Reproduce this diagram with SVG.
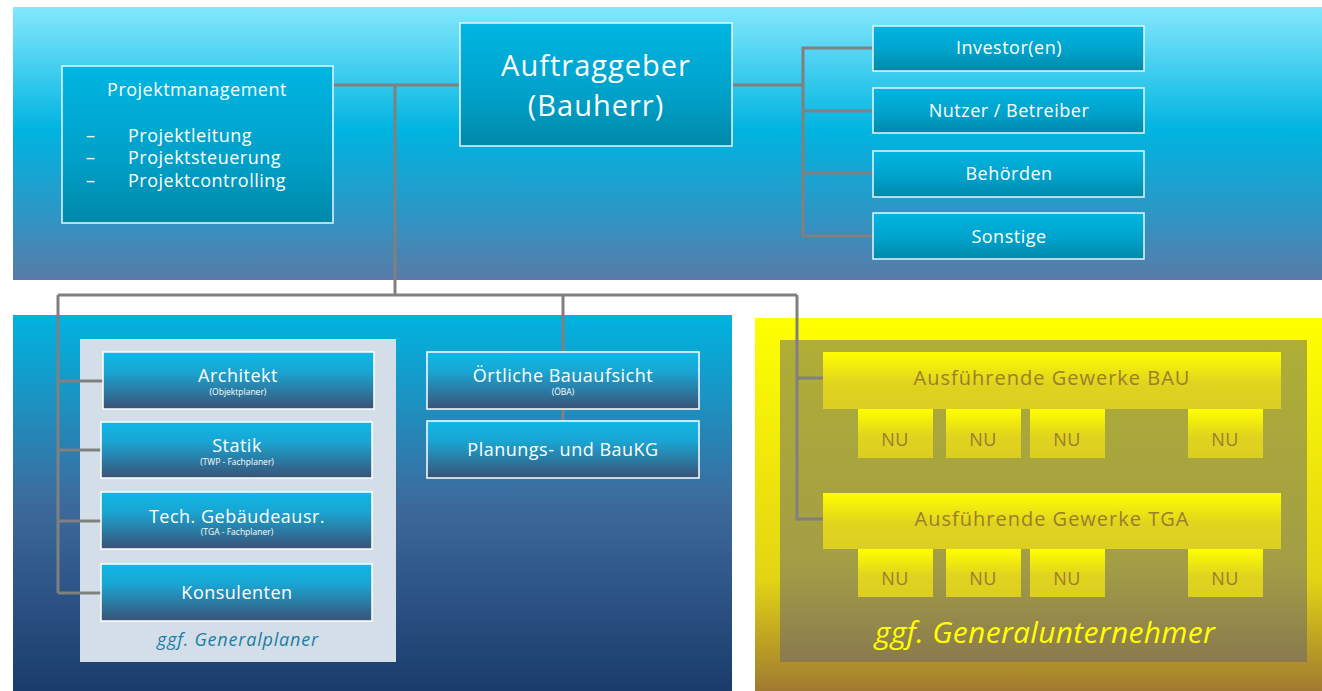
<svg xmlns="http://www.w3.org/2000/svg" width="1322" height="691" viewBox="0 0 1322 691">
  <defs>
    <linearGradient id="gTop" x1="0" y1="0" x2="0" y2="1">
      <stop offset="0" stop-color="#84E8FD"/>
      <stop offset="0.45" stop-color="#00B4E1"/>
      <stop offset="0.75" stop-color="#2C97C6"/>
      <stop offset="1" stop-color="#5A7AA8"/>
    </linearGradient>
    <linearGradient id="gBottom" x1="0" y1="0" x2="0" y2="1">
      <stop offset="0" stop-color="#00B4E1"/>
      <stop offset="0.5" stop-color="#3D6A9C"/>
      <stop offset="1" stop-color="#1A3C6C"/>
    </linearGradient>
    <linearGradient id="gYellow" x1="0" y1="0" x2="0" y2="1">
      <stop offset="0" stop-color="#FFFF00"/>
      <stop offset="0.7" stop-color="#E2D414"/>
      <stop offset="1" stop-color="#A07A30"/>
    </linearGradient>
    <linearGradient id="gOlive" x1="0" y1="0" x2="0" y2="1">
      <stop offset="0" stop-color="#AFAE36"/>
      <stop offset="0.7" stop-color="#A39D45"/>
      <stop offset="1" stop-color="#8A7A4E"/>
    </linearGradient>
    <linearGradient id="gBoxTop" x1="0" y1="0" x2="0" y2="1">
      <stop offset="0" stop-color="#00B6E2"/>
      <stop offset="0.6" stop-color="#00A0C8"/>
      <stop offset="1" stop-color="#0088A8"/>
    </linearGradient>
    <linearGradient id="gBoxLow" x1="0" y1="0" x2="0" y2="1">
      <stop offset="0" stop-color="#0EB8E6"/>
      <stop offset="0.35" stop-color="#1AA5D2"/>
      <stop offset="1" stop-color="#3A5276"/>
    </linearGradient>
    <linearGradient id="gBoxY" x1="0" y1="0" x2="0" y2="1">
      <stop offset="0" stop-color="#FFFF00"/>
      <stop offset="0.55" stop-color="#E0D41E"/>
      <stop offset="1" stop-color="#DCCE22"/>
    </linearGradient>
  </defs>
  <style>
    text { font-family: "Open Sans", "DejaVu Sans", sans-serif; }
    .bt { fill: url(#gBoxTop); stroke: #E6F6FC; stroke-width: 1.5; }
    .bl { fill: url(#gBoxLow); stroke: #FFFFFF; stroke-width: 1.5; }
    .by { fill: url(#gBoxY); }
    .w { fill: #FFFFFF; text-anchor: middle; }
    .wl { fill: #FFFFFF; }
    .t17 { font-size: 18px; letter-spacing: 0.5px; }
    .t30 { font-size: 29px; letter-spacing: 1px; }
    .sub { font-size: 8.5px; }
    .yt { fill: #9C7D2E; text-anchor: middle; }
    .conn { fill: none; stroke: #808080; stroke-width: 3; }
  </style>

  <!-- background panels -->
  <rect x="13" y="7" width="1309" height="273" fill="url(#gTop)"/>
  <rect x="13" y="315" width="719" height="376" fill="url(#gBottom)"/>
  <rect x="80" y="339" width="316" height="323" fill="#D3DEE9"/>
  <rect x="755" y="318" width="567" height="373" fill="url(#gYellow)"/>
  <rect x="780" y="340" width="527" height="322" fill="url(#gOlive)"/>

  <!-- connectors -->
  <g id="connectors">
    <path class="conn" d="M333 85 H460 M732 85 H803 M395 85 V295 M58 295 H797"/>
    <path class="conn" d="M873 48 H803 V236 H873 M803 111 H873 M803 173 H873"/>
    <path class="conn" d="M58 295 V593 M58 381 H103 M58 450 H101 M58 521 H101 M58 593 H101"/>
    <path class="conn" d="M563 295 V352 M563 409 V421"/>
    <path class="conn" d="M797 295 V519 H823 M797 378 H823"/>
  </g>

  <!-- client side -->
  <g id="projektmanagement">
    <rect class="bt" x="62" y="66" width="271" height="157"/>
    <text class="w t17" x="197" y="96">Projektmanagement</text>
    <text class="wl t17" x="86" y="142">–</text>
    <text class="wl t17" x="128" y="142">Projektleitung</text>
    <text class="wl t17" x="86" y="164">–</text>
    <text class="wl t17" x="128" y="164">Projektsteuerung</text>
    <text class="wl t17" x="86" y="187">–</text>
    <text class="wl t17" x="128" y="187">Projektcontrolling</text>
  </g>
  <g id="auftraggeber">
    <rect class="bt" x="460" y="23" width="272" height="123"/>
    <text class="w t30" x="596" y="76">Auftraggeber</text>
    <text class="w t30" x="596" y="116">(Bauherr)</text>
  </g>
  <g id="investor">
    <rect class="bt" x="873" y="26" width="271" height="45"/>
    <text class="w t17" x="1009" y="54">Investor(en)</text>
  </g>
  <g id="nutzer">
    <rect class="bt" x="873" y="88" width="271" height="45"/>
    <text class="w t17" x="1009" y="117">Nutzer / Betreiber</text>
  </g>
  <g id="behoerden">
    <rect class="bt" x="873" y="151" width="271" height="46"/>
    <text class="w t17" x="1009" y="180">Behörden</text>
  </g>
  <g id="sonstige">
    <rect class="bt" x="873" y="213" width="271" height="46"/>
    <text class="w t17" x="1009" y="243">Sonstige</text>
  </g>

  <!-- planners -->
  <g id="architekt">
    <rect class="bl" x="103" y="352" width="271" height="57"/>
    <text class="w t17" x="238" y="382">Architekt</text>
    <text class="w sub" x="238" y="395">(Objektplaner)</text>
  </g>
  <g id="statik">
    <rect class="bl" x="101" y="422" width="271" height="56"/>
    <text class="w t17" x="237" y="452">Statik</text>
    <text class="w sub" x="237" y="465">(TWP - Fachplaner)</text>
  </g>
  <g id="tga-planer">
    <rect class="bl" x="101" y="492" width="271" height="57"/>
    <text class="w t17" x="237" y="523">Tech. Gebäudeausr.</text>
    <text class="w sub" x="237" y="535">(TGA - Fachplaner)</text>
  </g>
  <g id="konsulenten">
    <rect class="bl" x="101" y="564" width="271" height="57"/>
    <text class="w t17" x="237" y="599">Konsulenten</text>
  </g>
  <text x="238" y="646" font-size="18" letter-spacing="0.8" font-style="italic" fill="#1C7EA2" text-anchor="middle">ggf. Generalplaner</text>

  <g id="oeba">
    <rect class="bl" x="427" y="352" width="272" height="57"/>
    <text class="w t17" x="563" y="382">Örtliche Bauaufsicht</text>
    <text class="w sub" x="563" y="395">(ÖBA)</text>
  </g>
  <g id="baukg">
    <rect class="bl" x="427" y="421" width="272" height="57"/>
    <text class="w t17" x="563" y="456">Planungs- und BauKG</text>
  </g>

  <!-- contractors -->
  <g id="gewerke-bau">
    <rect class="by" x="823" y="352" width="458" height="57"/>
    <text class="yt" x="1052" y="385" font-size="20" letter-spacing="1">Ausführende Gewerke BAU</text>
  </g>
  <g id="nu-bau">
    <rect class="by" x="858" y="409" width="75" height="49"/>
    <rect class="by" x="946" y="409" width="75" height="49"/>
    <rect class="by" x="1030" y="409" width="75" height="49"/>
    <rect class="by" x="1188" y="409" width="75" height="49"/>
    <text class="yt t17" x="895" y="446">NU</text>
    <text class="yt t17" x="983" y="446">NU</text>
    <text class="yt t17" x="1067" y="446">NU</text>
    <text class="yt t17" x="1225" y="446">NU</text>
  </g>
  <g id="gewerke-tga">
    <rect class="by" x="823" y="493" width="458" height="56"/>
    <text class="yt" x="1052" y="526" font-size="20" letter-spacing="1">Ausführende Gewerke TGA</text>
  </g>
  <g id="nu-tga">
    <rect class="by" x="858" y="549" width="75" height="48"/>
    <rect class="by" x="946" y="549" width="75" height="48"/>
    <rect class="by" x="1030" y="549" width="75" height="48"/>
    <rect class="by" x="1188" y="549" width="75" height="48"/>
    <text class="yt t17" x="895" y="585">NU</text>
    <text class="yt t17" x="983" y="585">NU</text>
    <text class="yt t17" x="1067" y="585">NU</text>
    <text class="yt t17" x="1225" y="585">NU</text>
  </g>
  <text x="1045" y="643" font-size="30" letter-spacing="0.3" font-style="italic" fill="#FFFF00" text-anchor="middle">ggf. Generalunternehmer</text>
</svg>
